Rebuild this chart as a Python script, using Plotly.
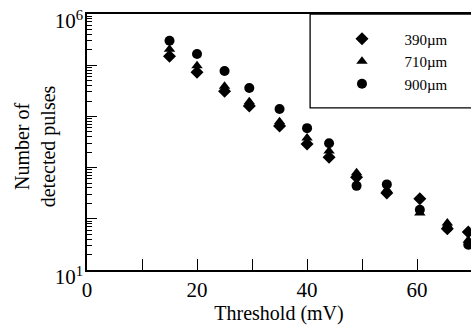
import plotly.graph_objects as go

thresholds = [15, 20, 25, 29.5, 35, 40, 44, 49, 54.5, 60.5, 65.5, 69.3]
pulses_390 = [1.5e5, 7.3e4, 3.1e4, 1.6e4, 6.5e3, 2.9e3, 1.6e3, 650, 320, 245, 64, 55]
pulses_710 = [2.05e5, 9.8e4, 3.9e4, 1.94e4, 7.9e3, 3.8e3, 2.1e3, 790, 370, 130, 83, 38]
pulses_900 = [3.0e5, 1.66e5, 7.7e4, 3.6e4, 1.4e4, 5.9e3, 3.0e3, 440, 470, 150, 66, 31]
series_names = ["390\u00b5m", "710\u00b5m", "900\u00b5m"]
x_tick_vals = [0, 10, 20, 30, 40, 50, 60]
x_tick_text = ["0", "", "20", "", "40", "", "60"]
y_tick_vals = [1e1, 1e2, 1e3, 1e4, 1e5, 1e6]
y_tick_text = ["10<sup>1</sup>", "", "", "", "", "10<sup>6</sup>"]

FONT = "Liberation Serif, Times New Roman, serif"
PAD = "\u00a0" * 6

fig = go.Figure()
for name, vals, sym in zip(series_names, [pulses_390, pulses_710, pulses_900],
                           ["diamond", "triangle-up", "circle"]):
    fig.add_trace(go.Scatter(
        x=thresholds, y=vals, mode="markers", name=PAD + name,
        marker=dict(symbol=sym, size=10, color="black", line=dict(width=0)),
    ))

minor_vals = [m * 10 ** e for e in range(1, 6) for m in range(2, 10)]

fig.update_layout(
    width=471, height=333,
    margin=dict(l=87, r=0, t=14, b=63),
    paper_bgcolor="white", plot_bgcolor="white",
    font=dict(family=FONT, color="black", size=20),
    showlegend=True,
    legend=dict(
        x=0.664, y=0.967, xanchor="left", yanchor="top",
        bgcolor="rgba(0,0,0,0)", borderwidth=0,
        font=dict(family=FONT, size=15, color="black"),
    ),
    xaxis=dict(
        range=[0, 69.8], showgrid=False, zeroline=False,
        showline=True, linecolor="black", linewidth=1.5, mirror=True,
        ticks="inside", ticklen=11, tickwidth=1.2, tickcolor="black",
        tickvals=x_tick_vals, ticktext=x_tick_text,
        tickfont=dict(family=FONT, size=21, color="black"),
        title=dict(text="Threshold (mV)", font=dict(family=FONT, size=20), standoff=0),
        automargin=False,
    ),
    yaxis=dict(
        type="log", range=[0.9995, 6.0005], showgrid=False, zeroline=False,
        showline=True, linecolor="black", linewidth=1.5, mirror=True,
        ticks="inside", ticklen=10, tickwidth=1.2, tickcolor="black",
        tickvals=y_tick_vals, ticktext=y_tick_text,
        tickfont=dict(family=FONT, size=21, color="black"),
        ticklabelshift=7, ticklabeloverflow="allow", ticklabelstandoff=-2,
        minor=dict(ticks="inside", ticklen=5, tickwidth=1, tickcolor="black",
                   tickvals=minor_vals, showgrid=False),
        automargin=False,
    ),
    annotations=[dict(
        text="Number of<br>detected pulses", xref="paper", yref="paper",
        x=-0.135, y=0.484, xanchor="center", yanchor="middle",
        textangle=-90, showarrow=False,
        font=dict(family=FONT, size=20, color="black"),
    )],
    shapes=[dict(type="rect", xref="paper", yref="paper",
                 x0=0.581, x1=1.05, y0=0.633, y1=1.0,
                 line=dict(color="black", width=1.3), fillcolor="rgba(0,0,0,0)")],
)

fig.write_html(
    "out.html",
    config={"displayModeBar": False},
    post_script="document.body.style.margin='0px';document.body.style.overflow='hidden';",
)
